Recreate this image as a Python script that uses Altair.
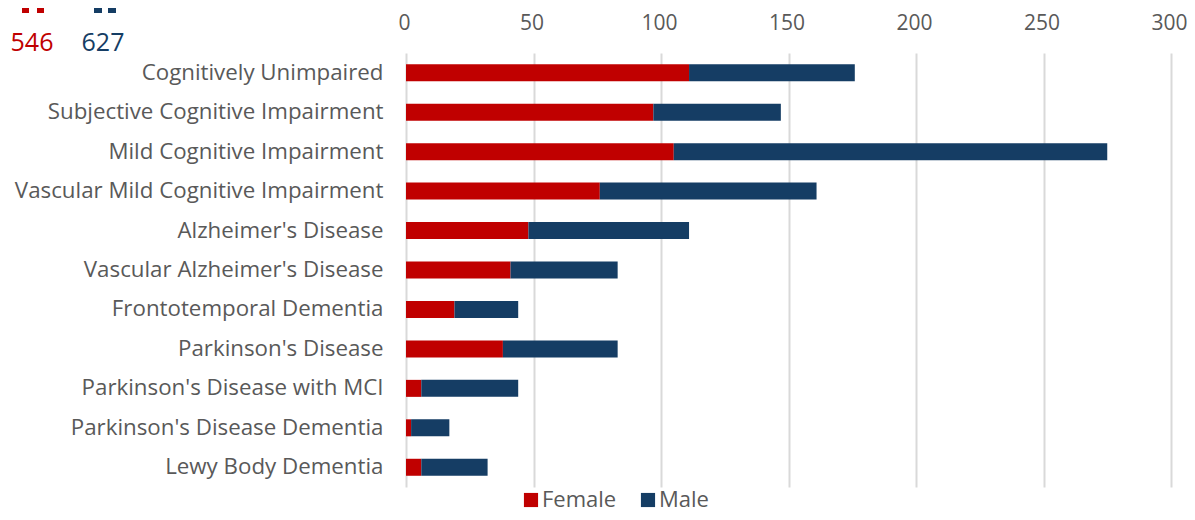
import altair as alt
import pandas as pd

categories = ["Cognitively Unimpaired", "Subjective Cognitive Impairment", "Mild Cognitive Impairment",
              "Vascular Mild Cognitive Impairment", "Alzheimer's Disease", "Vascular Alzheimer's Disease",
              "Frontotemporal Dementia", "Parkinson's Disease", "Parkinson's Disease with MCI",
              "Parkinson's Disease Dementia", "Lewy Body Dementia"]
female = [111, 97, 105, 76, 48, 41, 19, 38, 6, 2, 6]
male = [65, 50, 170, 85, 63, 42, 25, 45, 38, 15, 26]
RED, BLUE, GREY = "#c00000", "#153d64", "#595959"
FONT = "Open Sans"

df = pd.DataFrame({"Condition": categories * 2, "Sex": ["Female"] * 11 + ["Male"] * 11,
                   "order": [0] * 11 + [1] * 11, "Count": female + male})

bars = alt.Chart(df).mark_bar(size=17).encode(
    x=alt.X("Count:Q", stack="zero", scale=alt.Scale(domain=[0, 300], nice=False),
            axis=alt.Axis(orient="top", values=[0, 50, 100, 150, 200, 250, 300], title=None, domain=False,
                          ticks=False, grid=True, gridColor="#d9d9d9", gridWidth=2, labelFontSize=21,
                          labelColor=GREY, labelFont=FONT, labelPadding=20, labelFlush=False, labelOffset=-2)),
    y=alt.Y("Condition:N", sort=categories,
            axis=alt.Axis(title=None, domain=False, ticks=False, labelFontSize=22.3, labelColor=GREY,
                          labelFont=FONT, labelPadding=23, labelLimit=500)),
    color=alt.Color("Sex:N", scale=alt.Scale(domain=["Female", "Male"], range=[RED, BLUE]),
                    legend=alt.Legend(title=None, orient="none", direction="horizontal", legendX=114,
                                      legendY=436, symbolType="square", symbolSize=200, labelFontSize=22,
                                      labelColor=GREY, labelFont=FONT, columnPadding=20, labelOffset=0)),
    order="order:Q",
)

labels = pd.DataFrame({"label": ["546", "627"], "colour": [RED, BLUE], "px": [-374, -303]})
totals = alt.Chart(labels).mark_text(fontSize=25, font=FONT, baseline="middle", clip=False).encode(
    text="label:N", x=alt.X("px:Q", scale=None), y=alt.value(-10),
    color=alt.Color("colour:N", scale=None))

icons = pd.DataFrame({"px": [-384, -369, -312, -298], "px2": [-377, -362, -304, -290],
                      "colour": [RED, RED, BLUE, BLUE]})
icon = alt.Chart(icons).mark_rect(clip=False).encode(
    x=alt.X("px:Q", scale=None), x2="px2:Q", y=alt.value(-53), y2=alt.value(-40),
    color=alt.Color("colour:N", scale=None))

chart = (alt.layer(bars, icon, totals).resolve_scale(x="independent", color="independent")
         .properties(width=765, height=434, padding={"left": 398, "top": 45, "right": 16, "bottom": 25},
                     autosize=alt.AutoSizeParams(type="none"))
         .configure_view(stroke=None))
chart.save("out.html", embed_options={"renderer": "svg", "actions": False})
